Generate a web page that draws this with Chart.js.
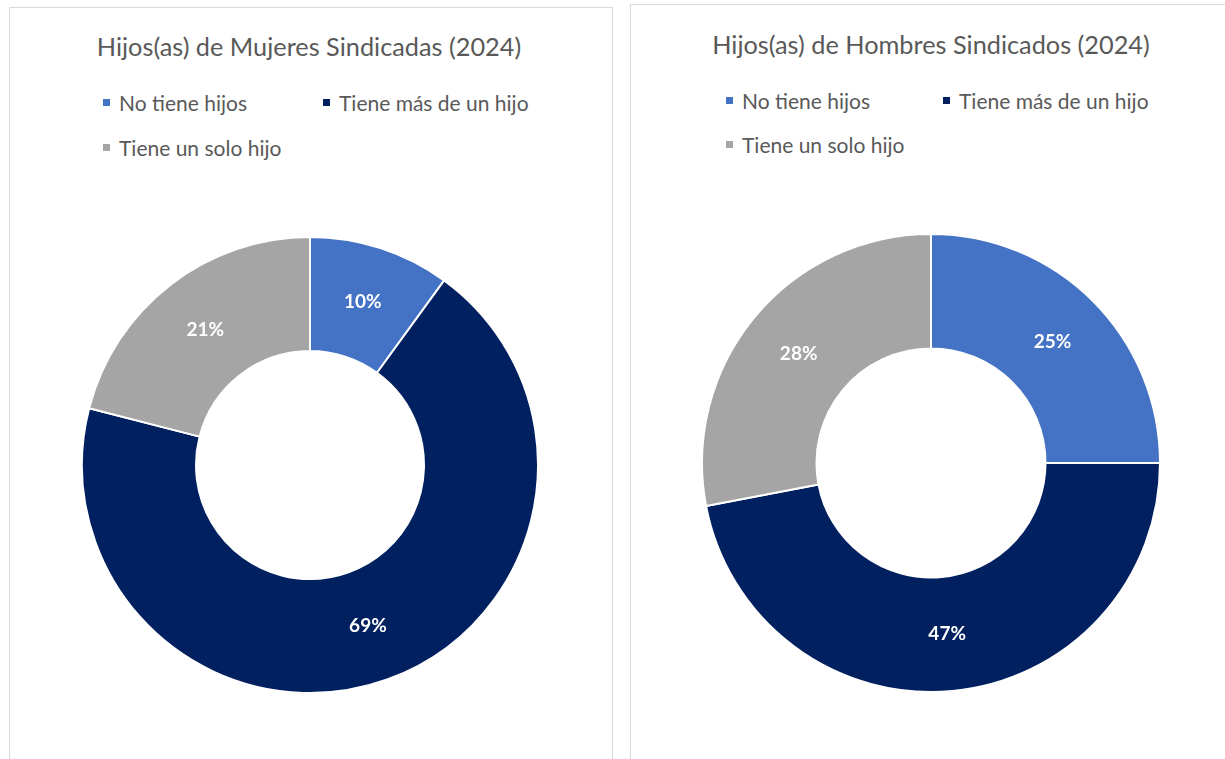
<!DOCTYPE html>
<html><head><meta charset="utf-8">
<script src="https://cdn.jsdelivr.net/npm/chart.js@4.4.1/dist/chart.umd.min.js"></script>
<style>
html,body{margin:0;padding:0;background:#fff;width:1225px;height:759px;overflow:hidden;font-family:Lato,"Liberation Sans",sans-serif;}
.panel{position:absolute;border:1px solid #d9d9d9;background:#fff;}
.title{position:absolute;color:#595959;font-size:25.3px;white-space:nowrap;transform:translate(-50%,-50%);}
.leg{position:absolute;color:#595959;font-size:21px;white-space:nowrap;transform:translateY(-50%);}
.sw{position:absolute;width:7px;height:7px;}
canvas{position:absolute;}
</style></head>
<body>
<div class="panel" style="left:9px;top:7px;width:602px;height:800px;"></div>
<div class="panel" style="left:630px;top:4px;width:620px;height:800px;"></div>
<script>
const categories = ["No tiene hijos", "Tiene más de un hijo", "Tiene un solo hijo"];
const womenValues = [10, 69, 21];
const menValues = [25, 47, 28];
const titles = ["Hijos(as) de Mujeres Sindicadas (2024)", "Hijos(as) de Hombres Sindicados (2024)"];
const colors = ["#4472C4", "#002060", "#A5A5A5"];

const labelPlugin = {
  id: 'pctLabels',
  afterDatasetsDraw(chart) {
    const ctx = chart.ctx;
    const ds = chart.data.datasets[0];
    chart.getDatasetMeta(0).data.forEach((arc, i) => {
      const p = arc.tooltipPosition();
      ctx.save();
      ctx.fillStyle = '#ffffff';
      ctx.font = 'bold 19px Lato, "Liberation Sans", sans-serif';
      ctx.textAlign = 'center';
      ctx.textBaseline = 'middle';
      ctx.fillText(ds.data[i] + '%', p.x, p.y);
      ctx.restore();
    });
  }
};

function addText(cls, text, x, y) {
  const d = document.createElement('div');
  d.className = cls; d.textContent = text;
  d.style.left = x + 'px'; d.style.top = y + 'px';
  document.body.appendChild(d);
}
function addSwatch(color, x, y) {
  const d = document.createElement('div');
  d.className = 'sw'; d.style.background = color;
  d.style.left = x + 'px'; d.style.top = (y - 3) + 'px';
  document.body.appendChild(d);
}

function makePanel(cfg) {
  addText('title', cfg.title, cfg.titleX, cfg.titleY);
  cfg.legend.forEach((l, i) => {
    addSwatch(colors[i], l[0], l[1]);
    addText('leg', categories[i], l[0] + 16, l[1]);
  });
  const c = document.createElement('canvas');
  const size = cfg.r * 2 + 4;
  c.width = size; c.height = size;
  c.style.left = (cfg.cx - size / 2) + 'px';
  c.style.top = (cfg.cy - size / 2) + 'px';
  c.style.width = size + 'px'; c.style.height = size + 'px';
  document.body.appendChild(c);
  new Chart(c, {
    type: 'doughnut',
    data: {
      labels: categories,
      datasets: [{ data: cfg.values, backgroundColor: colors, borderColor: '#ffffff', borderWidth: 2, hoverOffset: 0 }]
    },
    options: {
      responsive: false, animation: false, cutout: '50%',
      layout: { padding: 0 },
      plugins: { legend: { display: false }, tooltip: { enabled: false } }
    },
    plugins: [labelPlugin]
  });
}

makePanel({ title: titles[0], titleX: 309, titleY: 46, values: womenValues, cx: 310, cy: 465, r: 227,
  legend: [[103, 102], [323, 102], [103, 147]] });
makePanel({ title: titles[1], titleX: 931, titleY: 44, values: menValues, cx: 931, cy: 463, r: 228,
  legend: [[726, 100], [943, 100], [726, 144]] });
</script>
</body></html>
